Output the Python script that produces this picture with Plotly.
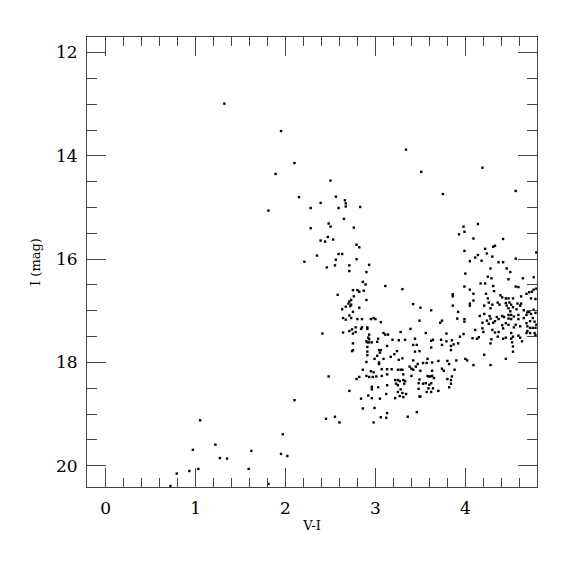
import plotly.graph_objects as go

# ---- data: (V-I, I) pairs ----
field_vi = [1.32, 1.95, 3.34, 3.51, 3.75, 4.19, 4.56]
field_i = [12.99, 13.52, 13.88, 14.31, 14.74, 14.23, 14.68]

upper_vi = [2.10, 1.89, 2.50, 2.15, 2.56, 2.66, 2.67, 2.39, 1.81, 2.28, 2.59, 2.67, 2.83, 2.65, 2.48, 2.50, 2.28, 2.76,
            2.47, 2.39, 2.44, 2.53, 2.79, 2.82, 2.59, 2.63, 2.35, 2.21, 2.56, 2.79, 2.93, 2.46, 2.55, 2.71, 2.71, 2.90,
            2.86, 2.89, 2.75, 2.80, 2.82, 2.87, 2.58, 2.76]
upper_i = [14.14, 14.35, 14.48, 14.80, 14.79, 14.86, 14.92, 14.91, 15.06, 15.01, 15.01, 14.98, 14.99, 15.22, 15.31,
           15.37, 15.40, 15.39, 15.57, 15.64, 15.66, 15.62, 15.72, 15.77, 15.90, 15.90, 15.93, 16.05, 16.01, 16.00,
           16.11, 16.16, 16.12, 16.12, 16.23, 16.25, 16.44, 16.49, 16.60, 16.60, 16.63, 16.61, 16.69, 16.72]

mid_vi = [2.90, 2.73, 2.71, 2.70, 2.73, 2.72, 2.82, 2.67, 2.63, 2.75, 2.71, 2.64, 2.67, 2.73, 2.80, 2.85, 2.95, 2.98,
          3.00, 3.06, 2.41, 2.64, 2.71, 2.74, 2.78, 2.78, 2.75, 2.84, 2.85, 2.91, 2.91, 2.93, 3.09, 3.11, 3.14, 3.03,
          2.92, 2.93, 2.90, 2.91, 2.93, 2.96, 3.02, 2.75, 3.13, 2.91, 3.04, 3.06, 3.05, 2.75, 2.74, 2.91, 3.02, 2.91,
          2.99, 3.09, 3.04, 3.04, 2.90, 2.86, 2.95, 2.98, 3.07, 3.13, 2.48, 2.82, 2.79, 2.90, 2.93, 2.97, 3.01, 3.07,
          3.13, 3.13, 2.96, 3.03, 2.96, 2.71, 3.12, 2.92, 2.96, 3.05, 2.84, 2.10, 2.99, 2.86, 3.13, 3.06, 3.12, 2.55,
          2.45, 2.60, 2.98, 3.11, 3.30, 3.42, 3.36, 3.46, 3.48, 3.39]
mid_i = [16.79, 16.79, 16.82, 16.86, 16.88, 16.91, 16.94, 16.92, 16.97, 17.02, 17.09, 17.14, 17.17, 17.14, 17.16, 17.16,
         17.16, 17.14, 17.16, 17.22, 17.44, 17.42, 17.39, 17.36, 17.32, 17.41, 17.44, 17.35, 17.32, 17.32, 17.35, 17.46,
         17.43, 17.46, 17.46, 17.54, 17.52, 17.55, 17.59, 17.61, 17.61, 17.61, 17.60, 17.63, 17.68, 17.70, 17.76, 17.76,
         17.81, 17.76, 17.78, 17.79, 17.87, 17.86, 17.93, 17.93, 18.00, 18.03, 17.99, 18.14, 18.17, 18.19, 18.13, 18.13,
         18.27, 18.28, 18.32, 18.26, 18.28, 18.28, 18.27, 18.26, 18.23, 18.44, 18.47, 18.48, 18.52, 18.55, 18.61, 18.64,
         18.69, 18.70, 18.70, 18.73, 18.88, 18.89, 18.98, 19.06, 19.07, 19.05, 19.09, 19.16, 19.16, 16.52, 16.58, 16.87,
         19.05, 18.96, 18.40, 17.35]

rgb_vi = [3.86, 3.86, 3.50, 3.62, 3.86, 3.92, 3.91, 3.49, 3.72, 3.74, 3.28, 3.56, 3.79, 3.44, 3.33, 3.26, 3.19, 3.62,
          3.64, 3.73, 3.79, 3.85, 3.92, 3.42, 3.46, 3.62, 3.84, 3.84, 3.44, 3.49, 3.21, 3.24, 3.17, 3.26, 3.30, 3.42,
          3.47, 3.53, 3.58, 3.63, 3.70, 3.80, 3.82, 3.90, 3.38, 3.40, 3.42, 3.45, 3.57, 3.25, 3.28, 3.30, 3.18, 3.50,
          3.63, 3.74, 3.76, 3.88, 3.31, 3.40, 3.58, 3.59, 3.61, 3.63, 3.49, 3.25, 3.27, 3.31, 3.33, 3.22, 3.65, 3.80,
          3.84, 3.53, 3.56, 3.60, 3.62, 3.84, 3.23, 3.25, 3.32, 3.28, 3.48, 3.59, 3.64, 3.57, 3.62, 3.70, 3.82, 3.25,
          3.30, 3.31, 3.34, 3.22, 3.27, 3.49, 3.50]
rgb_i = [16.68, 16.72, 16.94, 16.99, 16.90, 17.02, 17.15, 17.19, 17.23, 17.19, 17.41, 17.43, 17.44, 17.54, 17.56, 17.57,
         17.56, 17.58, 17.56, 17.56, 17.59, 17.57, 17.63, 17.66, 17.66, 17.71, 17.68, 17.76, 17.79, 17.78, 17.84, 17.78,
         17.89, 17.95, 17.92, 17.96, 18.03, 18.01, 17.93, 18.00, 17.97, 17.97, 18.03, 17.96, 18.08, 18.12, 18.14, 18.08,
         18.01, 18.14, 18.14, 18.14, 18.13, 18.16, 18.16, 18.12, 18.16, 18.14, 18.23, 18.26, 18.26, 18.27, 18.27, 18.26,
         18.33, 18.34, 18.36, 18.34, 18.36, 18.34, 18.30, 18.32, 18.34, 18.41, 18.40, 18.43, 18.40, 18.41, 18.41, 18.44,
         18.41, 18.52, 18.51, 18.50, 18.50, 18.57, 18.57, 18.55, 18.48, 18.57, 18.59, 18.67, 18.61, 18.69, 18.65, 18.66,
         18.66]

red_vi = [3.98, 3.99, 4.14, 3.93, 4.09, 4.42, 4.22, 4.31, 4.33, 3.99, 4.24, 4.14, 4.11, 4.30, 4.05, 4.18, 4.37, 4.42,
          4.79, 4.56, 4.28, 4.46, 4.50, 4.00, 4.25, 4.29, 4.48, 4.76, 4.64, 4.17, 4.22, 3.99, 4.31, 4.32, 4.56, 4.59,
          4.79, 4.76, 4.74, 4.71, 4.05, 4.68, 4.09, 4.23, 4.25, 4.39, 4.41, 4.45, 4.48, 4.53, 4.62, 4.73, 4.78,
          4.05, 4.09, 4.05, 4.21, 4.26, 4.30, 4.28, 4.36, 4.38, 4.45, 4.46, 4.49, 4.51, 4.58, 4.61, 4.62, 4.48, 4.50,
          4.53, 4.57, 4.65, 4.69, 4.71, 4.73, 4.76, 4.78, 4.16, 4.21, 4.27, 4.28, 4.24, 4.35, 4.37, 4.41, 4.43, 4.48,
          4.51, 4.48, 4.51, 4.54, 4.59, 4.59, 4.65, 4.68, 4.72, 4.75, 4.77, 3.99, 3.99, 4.19, 4.31, 4.33, 4.26, 4.41,
          4.45, 4.48, 4.54, 4.56, 4.61, 4.68, 4.69, 4.72, 4.75, 4.79, 4.78, 4.11, 4.19, 4.20, 4.30, 4.33, 4.37, 4.42,
          4.36, 4.42, 4.51, 4.53, 4.51, 4.59, 4.69, 4.72, 4.77, 4.78, 4.68, 3.98, 3.94, 4.08, 4.15, 4.13, 4.29, 4.28,
          4.45, 4.61, 4.63, 3.87, 3.74, 4.52, 4.53, 4.53, 4.21, 4.45, 4.00, 4.02, 4.28, 4.09, 3.85]
red_i = [15.37, 15.47, 15.32, 15.52, 15.60, 15.61, 15.80, 15.76, 15.74, 15.84, 15.89, 15.92, 15.97, 15.95, 16.04, 16.03,
         16.06, 16.06, 15.87, 15.99, 16.18, 16.18, 16.25, 16.28, 16.34, 16.37, 16.39, 16.35, 16.37, 16.47, 16.47, 16.53,
         16.52, 16.62, 16.53, 16.54, 16.57, 16.59, 16.63, 16.64, 16.59, 16.67, 16.67, 16.67, 16.76, 16.70, 16.74, 16.76,
         16.76, 16.76, 16.72, 16.76, 16.77,
         16.86, 16.80, 16.90, 16.90, 16.84, 16.88, 16.95, 16.84, 16.88, 16.85, 16.90, 16.84, 16.88, 16.86, 16.90, 16.86,
         16.95, 17.01, 16.93, 16.97, 16.99, 17.03, 17.02, 17.06, 16.98, 17.04, 17.10, 17.06, 17.10, 17.15, 17.19, 17.12,
         17.16, 17.10, 17.12, 17.08, 17.08, 17.15, 17.16, 17.11, 17.08, 17.16, 17.14, 17.08, 17.20, 17.14, 17.21, 17.16,
         17.21, 17.23, 17.23, 17.20, 17.25, 17.28, 17.24, 17.27, 17.32, 17.27, 17.30, 17.24, 17.30, 17.33, 17.33, 17.27,
         17.33, 17.37, 17.34, 17.41, 17.37, 17.42, 17.41, 17.34, 17.50, 17.54, 17.43, 17.50, 17.54, 17.48, 17.39, 17.43,
         17.43, 17.47, 17.43, 17.45, 17.50, 17.53, 17.51, 17.54, 17.55, 17.63, 17.52, 17.52, 17.59, 17.65, 17.66, 17.61,
         17.69, 17.79, 17.85, 17.93, 17.93, 17.96, 18.05, 18.05, 18.27]

faint_vi = [1.05, 1.97, 1.22, 0.97, 1.62, 1.27, 1.35, 1.95, 2.02, 0.93, 1.03, 0.79, 1.59, 0.72, 1.81]
faint_i = [19.12, 19.39, 19.59, 19.69, 19.71, 19.85, 19.86, 19.77, 19.81, 20.10, 20.06, 20.15, 20.06, 20.39, 20.35]

x_ticks = [0, 1, 2, 3, 4]
y_ticks = [12, 14, 16, 18, 20]

vi = field_vi + upper_vi + mid_vi + rgb_vi + red_vi + faint_vi
imag = field_i + upper_i + mid_i + rgb_i + red_i + faint_i

fig = go.Figure(go.Scatter(
    x=vi, y=imag, mode="markers",
    marker=dict(symbol="square", size=2.4, color="black", line=dict(width=0)),
    hoverinfo="x+y", showlegend=False,
))

axis_font = dict(family="DejaVu Serif, Liberation Serif, serif", size=17, color="black")
title_font = dict(family="DejaVu Serif, Liberation Serif, serif", size=13, color="black")

common = dict(
    showgrid=False, zeroline=False, showline=True, linecolor="#444", linewidth=1,
    mirror="allticks", ticks="inside", ticklen=19, tickwidth=1, tickcolor="#444",
    tickfont=axis_font,
)

fig.update_xaxes(
    range=[-0.208, 4.797], tickvals=x_ticks, ticktext=[str(v) for v in x_ticks],
    minor=dict(dtick=0.2, tick0=0, ticks="inside", ticklen=9, tickwidth=1, tickcolor="#444", showgrid=False),
    title=dict(text="V-I", font=title_font, standoff=3),
    ticklabelstandoff=6,
    **common,
)
fig.update_yaxes(
    range=[20.41, 11.70], tickvals=y_ticks, ticktext=[str(v) for v in y_ticks],
    minor=dict(dtick=0.5, tick0=12, ticks="inside", ticklen=10, tickwidth=1, tickcolor="#444", showgrid=False),
    title=dict(text="I (mag)", font=title_font, standoff=12),
    ticklabelstandoff=5,
    **common,
)

# page body adds an 8px offset, so margins are reduced accordingly
fig.update_layout(
    width=575, height=575,
    margin=dict(l=79, r=46, t=29, b=96, autoexpand=False),
    paper_bgcolor="white", plot_bgcolor="white",
)

fig.write_html("out.html")
